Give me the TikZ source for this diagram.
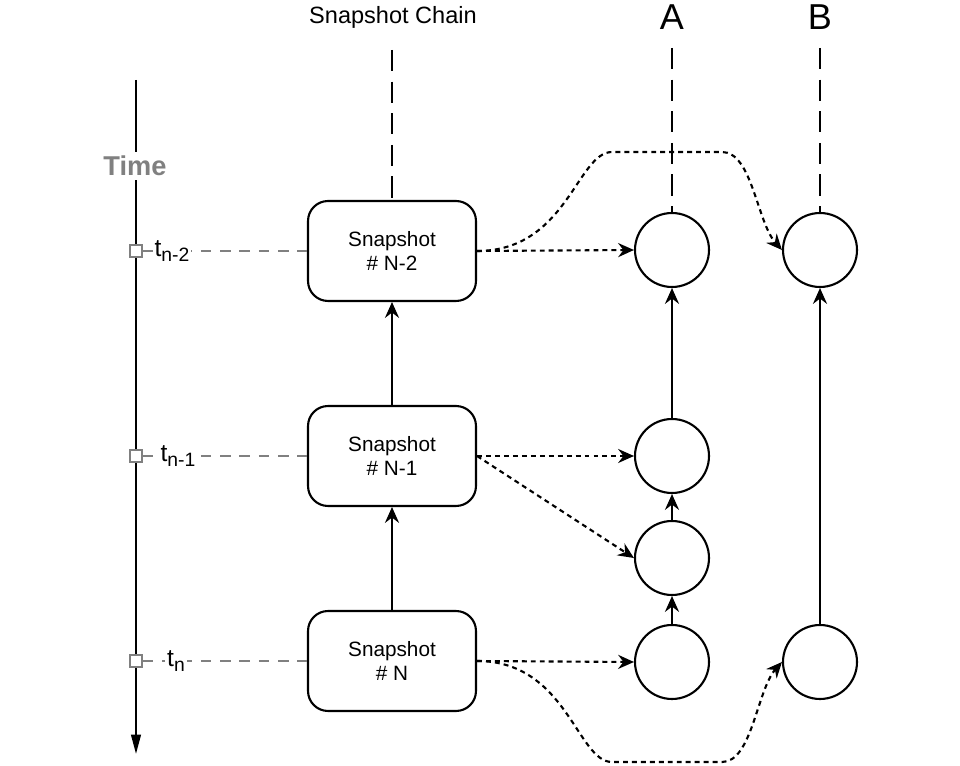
\documentclass[tikz,border=0pt]{standalone}
\usepackage{fontspec}
\setmainfont{Liberation Sans}
\usetikzlibrary{arrows.meta}

\begin{document}
\begin{tikzpicture}[
    x=0.02cm, y=-0.02cm,
    snap/.style={
        draw, line width=1.2pt, rounded corners=0.4cm, fill=white,
        minimum width=3.36cm, minimum height=2cm, align=center,
        font=\fontsize{11.8}{14}\selectfont
    },
    state/.style={
        draw, circle, line width=1.2pt, fill=white,
        minimum size=1.48cm, inner sep=0pt
    },
    tick/.style={draw=gray, line width=0.9pt, fill=white, minimum size=0.24cm, inner sep=0pt},
    tlabel/.style={fill=white, inner sep=1pt, font=\fontsize{14}{14}\selectfont},
    guide/.style={draw=gray, line width=1pt, dash pattern=on 6pt off 5pt},
    chain/.style={line width=1.2pt, dash pattern=on 12pt off 6pt},
    link/.style={line width=1.2pt, -{Stealth[length=9pt,width=8pt,inset=3pt]}},
    dep/.style={line width=1.2pt, dash pattern=on 2.8pt off 2.3pt,
        -{Stealth[length=9pt,width=8pt,inset=3pt]}}
]
\useasboundingbox[fill=white] (0,0) rectangle (960,766);

% time axis
\coordinate (ttop) at (136,80);
\coordinate (tbot) at (136,754);
\draw[line width=1.2pt, -{Triangle[length=11pt,width=5.5pt]}] (ttop) -- (tbot);
\node[font=\bfseries\fontsize{15.5}{18}\selectfont, text=gray, fill=white, inner sep=2pt]
    (timelbl) at (135,166) {Time};

% headings
\node[font=\fontsize{13.4}{16}\selectfont] (chainlbl) at (393,17) {Snapshot Chain};
\node[font=\fontsize{20.5}{24}\selectfont] (albl) at (672,17) {A};
\node[font=\fontsize{20.5}{24}\selectfont] (blbl) at (820,17) {B};

% snapshots
\foreach \n/\y/\txt in {sN2/251/N-2, sN1/456/N-1, sN/661/N} {
    \node[snap] (\n) at (392,\y) {Snapshot\\\# \txt};
}

% states
\foreach \n/\x/\y in {a0/672/250, a1/672/456, a2/672/558, a3/672/662, b0/820/250, b1/820/662} {
    \node[state] (\n) at (\x,\y) {};
}

% time marks
\foreach \n/\s/\dx in {sN2/n-2/0.72cm, sN1/n-1/0.84cm, sN/n/0.8cm} {
    \node[tick] (tk\n) at (ttop |- \n.west) {};
    \draw[guide] (tk\n.east) -- (\n.west);
    \node[tlabel] (tl\n) at ([xshift=\dx]tk\n.center)
        {t\raisebox{-0.45ex}{\fontsize{11}{11}\selectfont \s}};
}

% chain tops
\coordinate (ctop) at (sN2.north |- 0,50);
\coordinate (atop) at (a0.north |- 0,48);
\coordinate (btop) at (b0.north |- 0,48);
\draw[chain] (ctop) -- (sN2.north);
\draw[chain] (atop) -- (a0.north);
\draw[chain] (btop) -- (b0.north);

% solid links
\draw[link] (sN.north) -- (sN1.south);
\draw[link] (sN1.north) -- (sN2.south);
\draw[link] (a3.north) -- (a2.south);
\draw[link] (a2.north) -- (a1.south);
\draw[link] (a1.north) -- (a0.south);
\draw[link] (b1.north) -- (b0.south);

% dependencies
\draw[dep] (sN2.east) -- (a0.west);
\draw[dep] (sN1.east) -- (a1.west);
\draw[dep] (sN1.east) -- (a2.west);
\draw[dep] (sN.east) -- (a3.west);
\draw[dep] (sN2.east) .. controls +(90,0) and +(-35,0) .. ++(135,-99)
    -- ++(110,0) .. controls +(30,0) and +(-25,-28) .. (b0.west);
\draw[dep] (sN.east) .. controls +(90,0) and +(-35,0) .. ++(135,101)
    -- ++(110,0) .. controls +(30,0) and +(-25,28) .. (b1.west);
\end{tikzpicture}
\end{document}
